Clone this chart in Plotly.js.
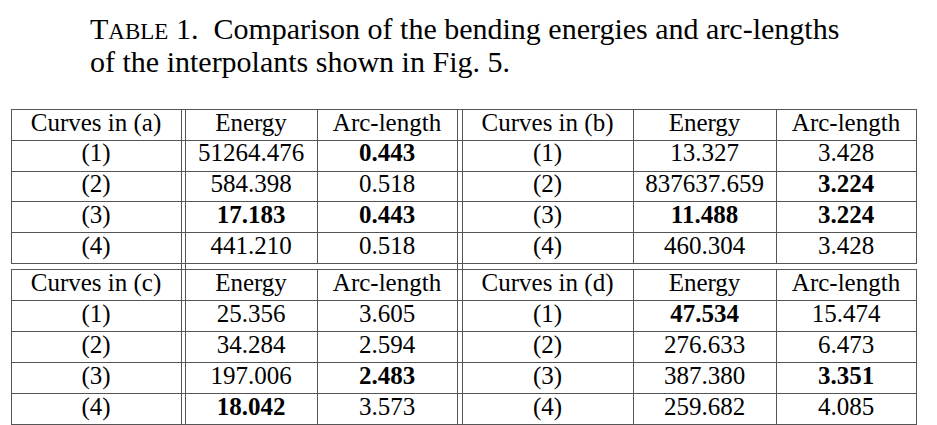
<!DOCTYPE html>
<html>
<head>
<meta charset="utf-8">
<script src="https://cdn.plot.ly/plotly-3.0.1.min.js"></script>
<style>html,body{margin:0;padding:0;background:#fff;}#chart{width:937px;height:425px;}</style>
</head>
<body>
<div id="chart"></div>
<script>
// ---- data ----
const curveLabels = ['(1)', '(2)', '(3)', '(4)'];
const panels = ['a', 'b', 'c', 'd'];
const colHeaders = ['Energy', 'Arc-length'];

const energyA = [51264.476, 584.398, 17.183, 441.210];
const arcA    = [0.443, 0.518, 0.443, 0.518];
const energyB = [13.327, 837637.659, 11.488, 460.304];
const arcB    = [3.428, 3.224, 3.224, 3.428];
const energyC = [25.356, 34.284, 197.006, 18.042];
const arcC    = [3.605, 2.594, 2.483, 3.573];
const energyD = [47.534, 276.633, 387.380, 259.682];
const arcD    = [15.474, 6.473, 3.351, 4.085];

const titleLine1 = 'Comparison of the bending energies and arc-lengths';
const titleLine2 = 'of the interpolants shown in Fig. 5.';

// ---- layout constants (pixels of the 937x425 page) ----
const W = 937, H = 425;
const FONT = 'Liberation Serif, Times New Roman, serif';
const LINE = '#555555';
const leftCols  = [[11, 181], [185, 317], [317, 457]];
const rightCols = [[462, 633], [633, 776], [776, 916]];
const blocks = [[109, 263], [269, 424]];   // top / bottom table blocks
const NROWS = 5;                            // header + 4 curves

function fmt(col) {
  const m = Math.min.apply(null, col);
  return col.map(v => (v === m ? '<b>' + v.toFixed(3) + '</b>' : v.toFixed(3)));
}
function rowEdges(b) {
  const h = (b[1] - b[0]) / NROWS, e = [];
  for (let i = 0; i <= NROWS; i++) e.push(b[0] + i * h);
  return e;
}

function cellTrace(cols, block, panel, energy, arc) {
  const e = rowEdges(block);
  const columns = [
    ['Curves in (' + panel + ')'].concat(curveLabels),
    [colHeaders[0]].concat(fmt(energy)),
    [colHeaders[1]].concat(fmt(arc))
  ];
  const x = [], y = [], t = [];
  columns.forEach((col, c) => {
    col.forEach((txt, r) => {
      x.push((cols[c][0] + cols[c][1]) / 2);
      y.push((e[r] + e[r + 1]) / 2);
      t.push(txt);
    });
  });
  return {
    type: 'scatter', mode: 'text', x: x, y: y, text: t,
    textposition: 'middle center', hoverinfo: 'skip',
    textfont: { family: FONT, size: 25, color: '#000' }
  };
}

const traces = [
  cellTrace(leftCols,  blocks[0], panels[0], energyA, arcA),
  cellTrace(rightCols, blocks[0], panels[1], energyB, arcB),
  cellTrace(leftCols,  blocks[1], panels[2], energyC, arcC),
  cellTrace(rightCols, blocks[1], panels[3], energyD, arcD)
];

// ---- rule lines ----
const shapes = [];
function hline(y, x0, x1) {
  shapes.push({ type: 'line', xref: 'x', yref: 'y', x0: x0, x1: x1, y0: y + 0.5, y1: y + 0.5,
                line: { color: LINE, width: 1 } });
}
function vline(x, y0, y1) {
  shapes.push({ type: 'line', xref: 'x', yref: 'y', x0: x + 0.5, x1: x + 0.5, y0: y0, y1: y1 + 1,
                line: { color: LINE, width: 1 } });
}
blocks.forEach(b => {
  rowEdges(b).forEach(y => hline(Math.round(y), leftCols[0][0], rightCols[2][1]));
  // single vertical rules in this block
  [leftCols[0][0], leftCols[2][0], rightCols[1][0], rightCols[2][0], rightCols[2][1]]
    .forEach(x => vline(x, b[0], b[1]));
});
// double vertical rules run through both blocks
[leftCols[0][1], leftCols[1][0], leftCols[2][1], rightCols[0][0]]
  .forEach(x => vline(x, blocks[0][0], blocks[1][1]));

const layout = {
  width: W, height: H,
  margin: { l: 0, r: 0, t: 0, b: 0 },
  paper_bgcolor: '#fff', plot_bgcolor: '#fff',
  showlegend: false,
  xaxis: { range: [0, W], visible: false, fixedrange: true },
  yaxis: { range: [H, 0], visible: false, fixedrange: true },
  shapes: shapes,
  annotations: [
    { xref: 'paper', yref: 'paper', x: 88 / W, y: 1 - 10 / H, xanchor: 'left', yanchor: 'top',
      showarrow: false, align: 'left',
      text: 'T<span style="font-size:23px">ABLE</span> 1.  ' + titleLine1,
      font: { family: FONT, size: 30, color: '#000' } },
    { xref: 'paper', yref: 'paper', x: 88 / W, y: 1 - 43 / H, xanchor: 'left', yanchor: 'top',
      showarrow: false, align: 'left',
      text: titleLine2,
      font: { family: FONT, size: 30, color: '#000' } }
  ]
};

Plotly.newPlot('chart', traces, layout, { staticPlot: true, displayModeBar: false });
</script>
</body>
</html>
